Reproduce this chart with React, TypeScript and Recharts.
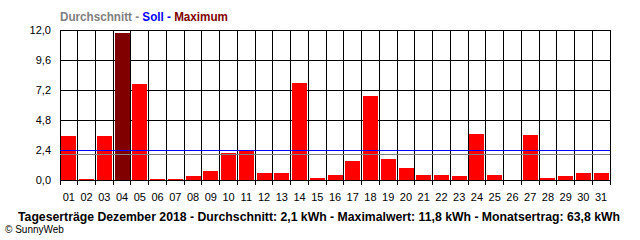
import React from 'react';
import { BarChart, Bar, XAxis, YAxis, CartesianGrid, ReferenceLine, Cell } from 'recharts';

// Tageserträge Dezember 2018 (kWh)
const days = [
  '01', '02', '03', '04', '05', '06', '07', '08', '09', '10',
  '11', '12', '13', '14', '15', '16', '17', '18', '19', '20',
  '21', '22', '23', '24', '25', '26', '27', '28', '29', '30', '31',
];
const yields = [
  3.5, 0.1, 3.5, 11.8, 7.7, 0.1, 0.1, 0.3, 0.7, 2.2,
  2.3, 0.6, 0.6, 7.8, 0.2, 0.4, 1.5, 6.7, 1.7, 1.0,
  0.4, 0.4, 0.3, 3.7, 0.4, 0.0, 3.6, 0.2, 0.3, 0.6, 0.6,
];
const yTicks = [0, 2.4, 4.8, 7.2, 9.6, 12];
const SOLL = 2.4;
const AVERAGE = 2.02;

const maxValue = Math.max(...yields);
const rows = days.map((day, i) => ({ day, value: yields[i] }));

const FONT = '"Liberation Sans", Arial, sans-serif';

const fmt = (v: number) => v.toFixed(1).replace('.', ',');

const DayTick: React.FC<any> = (props) => {
  const { x, y, payload, index } = props;
  const half = payload && payload.offset ? payload.offset : 0;
  return (
    <g>
      <line x1={x - half} y1={y} x2={x - half} y2={y + 5} stroke="#000" />
      {index === days.length - 1 && (
        <line x1={x + half} y1={y} x2={x + half} y2={y + 5} stroke="#000" />
      )}
      <text x={x} y={y + 21} textAnchor="middle" fontSize={11} fontFamily={FONT} fill="#000">
        {payload.value}
      </text>
    </g>
  );
};

const boundaryLines = (props: any) => {
  const off = props.offset;
  const pts: number[] = [];
  for (let i = 0; i <= days.length; i++) {
    pts.push(off.left + (i * off.width) / days.length);
  }
  return pts;
};

export default function App() {
  return (
    <div style={{ position: 'absolute', left: 0, top: 0, width: 640, height: 240, background: '#fff' }}>
      <style>{'.yield-chart line, .yield-chart rect, .yield-chart path { shape-rendering: crispEdges; }'}</style>
      <div className="yield-chart">
        <BarChart
          width={640}
          height={240}
          data={rows}
          margin={{ top: 30, right: 30, bottom: 40, left: 0 }}
          barCategoryGap="8%"
        >
          <CartesianGrid stroke="#000" verticalCoordinatesGenerator={boundaryLines} />
          <XAxis
            dataKey="day"
            height={20}
            axisLine={false}
            tickLine={false}
            tickSize={0}
            tickMargin={0}
            interval={0}
            tick={<DayTick />}
          />
          <YAxis
            width={60}
            domain={[0, 12]}
            ticks={yTicks}
            tickFormatter={fmt}
            axisLine={false}
            tickLine={false}
            tickSize={0}
            tickMargin={9}
            tick={{ fill: '#000', fontSize: 11, fontFamily: FONT }}
          />
          <Bar dataKey="value" isAnimationActive={false}>
            {rows.map((r) => (
              <Cell key={r.day} fill={r.value === maxValue ? '#800000' : '#ff0000'} />
            ))}
          </Bar>
          <ReferenceLine y={AVERAGE} stroke="#808080" strokeWidth={1} />
          <ReferenceLine y={SOLL} stroke="#0000ff" strokeWidth={1} />
        </BarChart>
      </div>
      <svg
        width={640}
        height={240}
        style={{ position: 'absolute', left: 0, top: 0, pointerEvents: 'none' }}
      >
        <text x={60} y={21} fontSize={12} fontWeight="bold" fontFamily={FONT} textLength={168} lengthAdjust="spacingAndGlyphs">
          <tspan fill="#808080">Durchschnitt - </tspan>
          <tspan fill="#0000ff">Soll - </tspan>
          <tspan fill="#800000">Maximum</tspan>
        </text>
        <text x={18} y={221} fontSize={12} fontWeight="bold" fontFamily={FONT} fill="#000" textLength={602} lengthAdjust="spacingAndGlyphs">
          Tageserträge Dezember 2018 - Durchschnitt: 2,1 kWh - Maximalwert: 11,8 kWh - Monatsertrag: 63,8 kWh
        </text>
        <text x={5} y={233} fontSize={10} fontFamily={FONT} fill="#000">
          © SunnyWeb
        </text>
      </svg>
    </div>
  );
}
